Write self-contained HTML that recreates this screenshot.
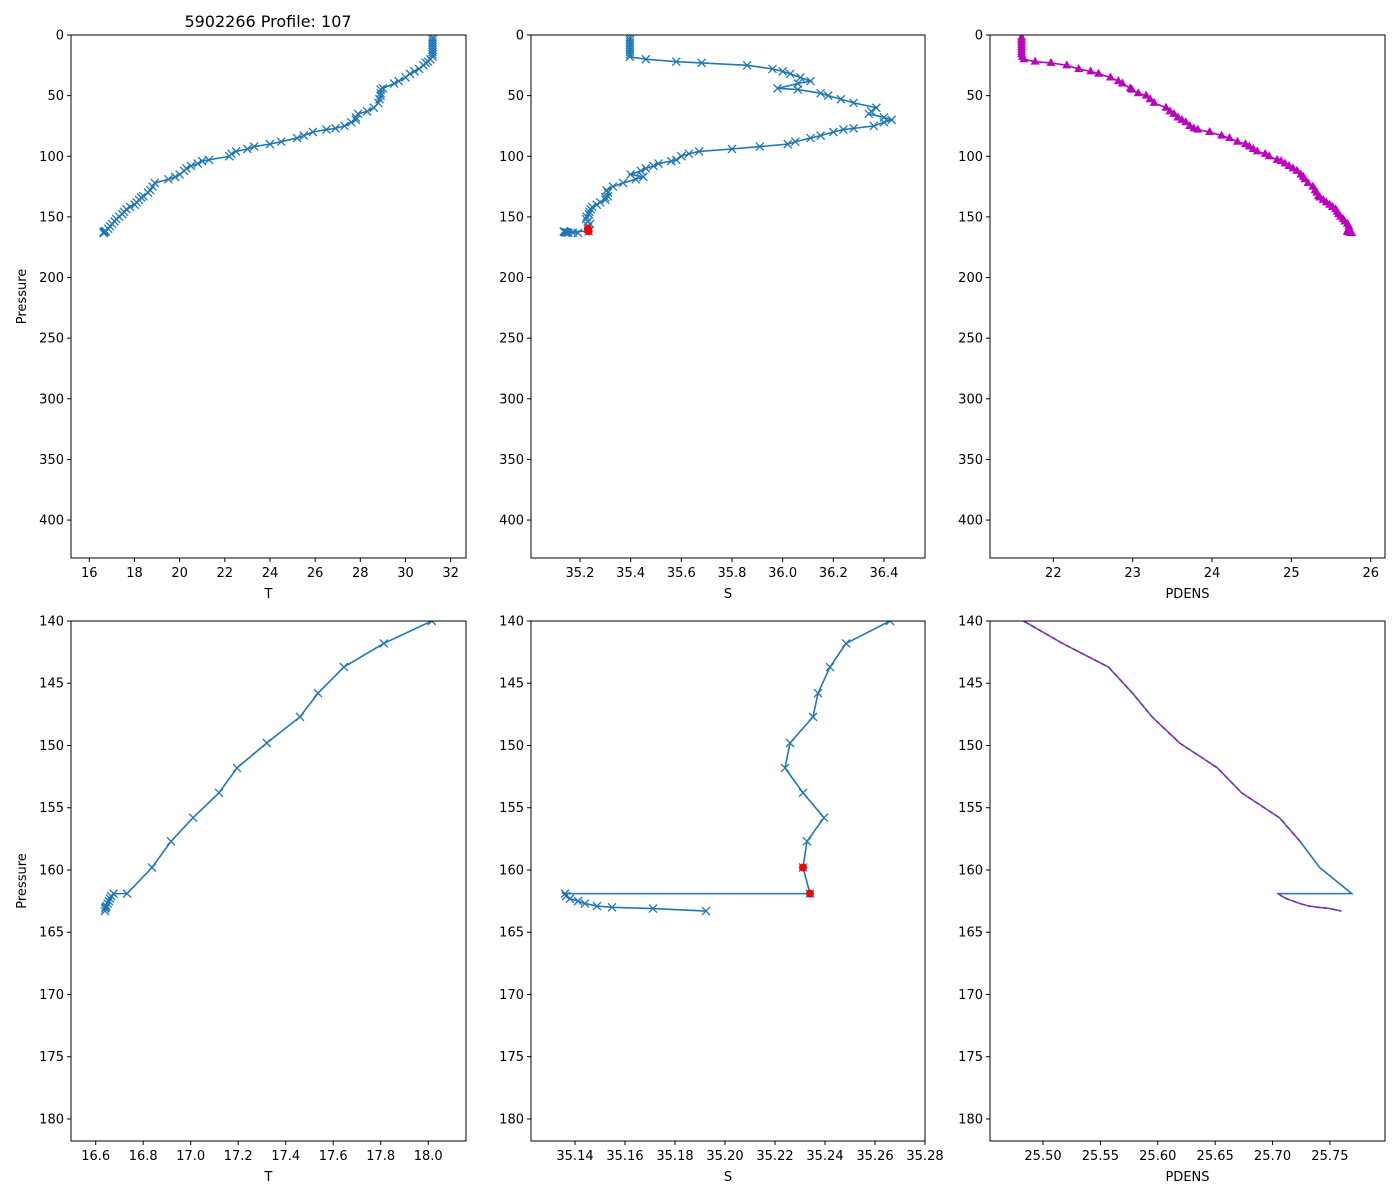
<!DOCTYPE html>
<html><head><meta charset="utf-8"><style>
body{margin:0;background:#fff;}
svg{display:block;font-family:"DejaVu Sans","Liberation Sans",sans-serif;}
</style></head><body>
<svg id="fig" width="1400" height="1200" viewBox="0 0 1400 1200" xmlns="http://www.w3.org/2000/svg">
<rect width="1400" height="1200" fill="#fff"/>
<text x="268" y="27" font-size="16" text-anchor="middle">5902266 Profile: 107</text>
</svg>
<script>
const pressure=[2,4,6,8,10,12,14,16,18,20,22,23,25,28,30,32,35,38,40,44,45,48,50,53,56,60,63,65,68,70,72,75,77,78,80,83,85,88,90,92,94,96,98,100,103,104,106,108,110,112,115,117,119,122,125,128,130,133,134,136,138,
140,141.8,143.7,145.8,147.7,149.8,151.8,153.8,155.8,157.7,159.8,161.9,161.9,162.1,162.3,162.5,162.7,162.9,163.0,163.1,163.3];
const temperature=[31.2,31.2,31.2,31.2,31.2,31.2,31.2,31.2,31.2,31.1,31.0,30.9,30.8,30.6,30.4,30.2,30.0,29.7,29.5,29.0,28.9,28.9,28.9,28.85,28.8,28.6,28.3,27.9,27.8,27.8,27.6,27.3,26.9,26.5,25.9,25.5,25.2,24.5,24.0,23.3,23.0,22.5,22.3,22.2,21.3,21.0,20.8,20.5,20.3,20.2,20.0,19.8,19.5,18.9,18.8,18.7,18.6,18.4,18.3,18.2,18.1,
18.015,17.813,17.645,17.536,17.46,17.32,17.195,17.119,17.01,16.917,16.837,16.732,16.675,16.665,16.66,16.655,16.65,16.645,16.642,16.64,16.639];
const salinity=[35.397,35.397,35.397,35.397,35.397,35.397,35.397,35.397,35.397,35.46,35.58,35.68,35.86,35.96,36.00,36.03,36.07,36.11,36.06,35.98,36.06,36.15,36.18,36.23,36.28,36.37,36.35,36.34,36.40,36.43,36.40,36.36,36.28,36.24,36.20,36.15,36.11,36.05,36.02,35.91,35.80,35.67,35.63,35.60,35.58,35.56,35.51,35.49,35.46,35.44,35.40,35.45,35.42,35.37,35.33,35.305,35.31,35.31,35.30,35.30,35.28,
35.266,35.2484,35.242,35.2372,35.2352,35.226,35.224,35.2312,35.2396,35.2328,35.2312,35.234,35.136,35.1364,35.138,35.1412,35.144,35.1488,35.1548,35.1712,35.1924];
const pdens=[21.60,21.60,21.60,21.60,21.60,21.60,21.60,21.60,21.61,21.63,21.77,21.97,22.17,22.32,22.47,22.57,22.72,22.82,22.87,22.97,22.99,23.07,23.17,23.22,23.27,23.42,23.47,23.52,23.57,23.62,23.67,23.72,23.77,23.82,23.97,24.12,24.22,24.32,24.42,24.47,24.52,24.57,24.67,24.72,24.82,24.87,24.92,24.97,25.02,25.07,25.12,25.15,25.17,25.21,25.27,25.30,25.32,25.34,25.36,25.40,25.44,
25.483,25.517,25.557,25.578,25.595,25.619,25.652,25.673,25.706,25.724,25.741,25.769,25.705,25.708,25.712,25.718,25.724,25.732,25.740,25.750,25.760];
const flaggedIdx=[71,72];
const pdensOutlierIdx=[71,72];
const tickTopP=[0,50,100,150,200,250,300,350,400];
const tickBotP=[140,145,150,155,160,165,170,175,180];
const tickT1=[16,18,20,22,24,26,28,30,32];
const tickS1=[35.2,35.4,35.6,35.8,36.0,36.2,36.4];
const tickD1=[22,23,24,25,26];
const tickT2=[16.6,16.8,17.0,17.2,17.4,17.6,17.8,18.0];
const tickS2=[35.14,35.16,35.18,35.20,35.22,35.24,35.26,35.28];
const tickD2=[25.50,25.55,25.60,25.65,25.70,25.75];

const NS="http://www.w3.org/2000/svg";
const fig=document.getElementById('fig');
const BLUE="#1f77b4",MAG="#bf00bf";
function mk(tag,attrs,parent){const e=document.createElementNS(NS,tag);for(const k in attrs)e.setAttribute(k,attrs[k]);(parent||fig).appendChild(e);return e;}

function panel(cfg){
  const {x0,x1,y0,y1,xmin,xmax,pmin,pmax,xt,pt,xdec,xlabel,ylabel,id,xvals,kind}=cfg;
  const sx=v=>x0+(v-xmin)/(xmax-xmin)*(x1-x0);
  const sy=p=>y0+(p-pmin)/(pmax-pmin)*(y1-y0);
  const g=mk('g',{});
  
  
  const cp=mk('clipPath',{id:'c'+id},g);mk('rect',{x:x0,y:y0,width:x1-x0,height:y1-y0},cp);
  const plot=mk('g',{'clip-path':'url(#c'+id+')'},g);
  
  
  const pts=pressure.map((p,i)=>[sx(xvals[i]),sy(p)]);
  const line=mk('polyline',{points:pts.map(q=>q.join(',')).join(' '),fill:'none',stroke:BLUE,'stroke-width':1.6},plot);
  
  
  if(kind==='x'){
    pts.forEach((q,i)=>{const m=mk('path',{d:`M${q[0]-4},${q[1]-4}L${q[0]+4},${q[1]+4}M${q[0]-4},${q[1]+4}L${q[0]+4},${q[1]-4}`,stroke:BLUE,'stroke-width':1.3},plot);
      
      });
  }
  if(kind==='tri'||kind==='dash'){
    const segs=[[]];
    pts.forEach((q,i)=>{if(pdensOutlierIdx.includes(i)){if(segs[segs.length-1].length)segs.push([]);}else segs[segs.length-1].push(q);});
    segs.filter(s=>s.length>1).forEach(s=>{
      const ml=mk('polyline',{points:s.map(q=>q.join(',')).join(' '),fill:'none',stroke:MAG,'stroke-width':1.4},plot);
      if(kind==='dash')ml.setAttribute('stroke-dasharray','5,3');
      
      
    });
    if(kind==='tri')pts.forEach((q,i)=>{if(pdensOutlierIdx.includes(i))return;const t=mk('path',{d:`M${q[0]},${q[1]-5}L${q[0]+4.5},${q[1]+3}L${q[0]-4.5},${q[1]+3}Z`,fill:MAG},plot);
      
      });
  }
  if(cfg.flag){flaggedIdx.forEach(i=>{const c=mk('circle',{cx:pts[i][0],cy:pts[i][1],r:4,fill:'#ff0000'},plot);
    
    });}
  const fr=mk('rect',{x:x0,y:y0,width:x1-x0,height:y1-y0,fill:'none',stroke:'#000','stroke-width':1},g);
  
  
  xt.forEach(v=>{const X=sx(v);mk('line',{x1:X,x2:X,y1:y1,y2:y1+4,stroke:'#000'},g);
    const t=mk('text',{x:X,y:y1+19,'font-size':13,'text-anchor':'middle'},g);t.textContent=v.toFixed(xdec);
    
    });
  pt.forEach(v=>{const Y=sy(v);mk('line',{x1:x0-4,x2:x0,y1:Y,y2:Y,stroke:'#000'},g);
    const t=mk('text',{x:x0-7,y:Y+4.5,'font-size':13,'text-anchor':'end'},g);t.textContent=v;
    
    });
  const xl=mk('text',{x:(x0+x1)/2,y:y1+40,'font-size':13,'text-anchor':'middle'},g);xl.textContent=xlabel;
  
  
  if(ylabel){const yl=mk('text',{x:0,y:0,'font-size':13,'text-anchor':'middle',transform:`translate(26,${(y0+y1)/2}) rotate(-90)`},g);yl.textContent=ylabel;
    
    }
}
const TOP=[35,558,0,431.3],BOT=[621,1141,140,181.77];
panel({id:'t-full',x0:71,x1:466,y0:TOP[0],y1:TOP[1],pmin:TOP[2],pmax:TOP[3],xmin:15.19,xmax:32.68,xt:tickT1,pt:tickTopP,xdec:0,xlabel:'T',ylabel:'Pressure',xvals:temperature,kind:'x'});
panel({id:'s-full',x0:531,x1:925,y0:TOP[0],y1:TOP[1],pmin:TOP[2],pmax:TOP[3],xmin:35.0066,xmax:36.562,xt:tickS1,pt:tickTopP,xdec:1,xlabel:'S',xvals:salinity,kind:'x',flag:true});
panel({id:'d-full',x0:990,x1:1385,y0:TOP[0],y1:TOP[1],pmin:TOP[2],pmax:TOP[3],xmin:21.202,xmax:26.18,xt:tickD1,pt:tickTopP,xdec:0,xlabel:'PDENS',xvals:pdens,kind:'tri'});
panel({id:'t-zoom',x0:71,x1:466,y0:BOT[0],y1:BOT[1],pmin:BOT[2],pmax:BOT[3],xmin:16.496,xmax:18.159,xt:tickT2,pt:tickBotP,xdec:1,xlabel:'T',ylabel:'Pressure',xvals:temperature,kind:'x'});
panel({id:'s-zoom',x0:531,x1:925,y0:BOT[0],y1:BOT[1],pmin:BOT[2],pmax:BOT[3],xmin:35.1224,xmax:35.28,xt:tickS2,pt:tickBotP,xdec:2,xlabel:'S',xvals:salinity,kind:'x',flag:true});
panel({id:'d-zoom',x0:990,x1:1385,y0:BOT[0],y1:BOT[1],pmin:BOT[2],pmax:BOT[3],xmin:25.4538,xmax:25.798,xt:tickD2,pt:tickBotP,xdec:2,xlabel:'PDENS',xvals:pdens,kind:'dash'});
</script>
</body></html>
